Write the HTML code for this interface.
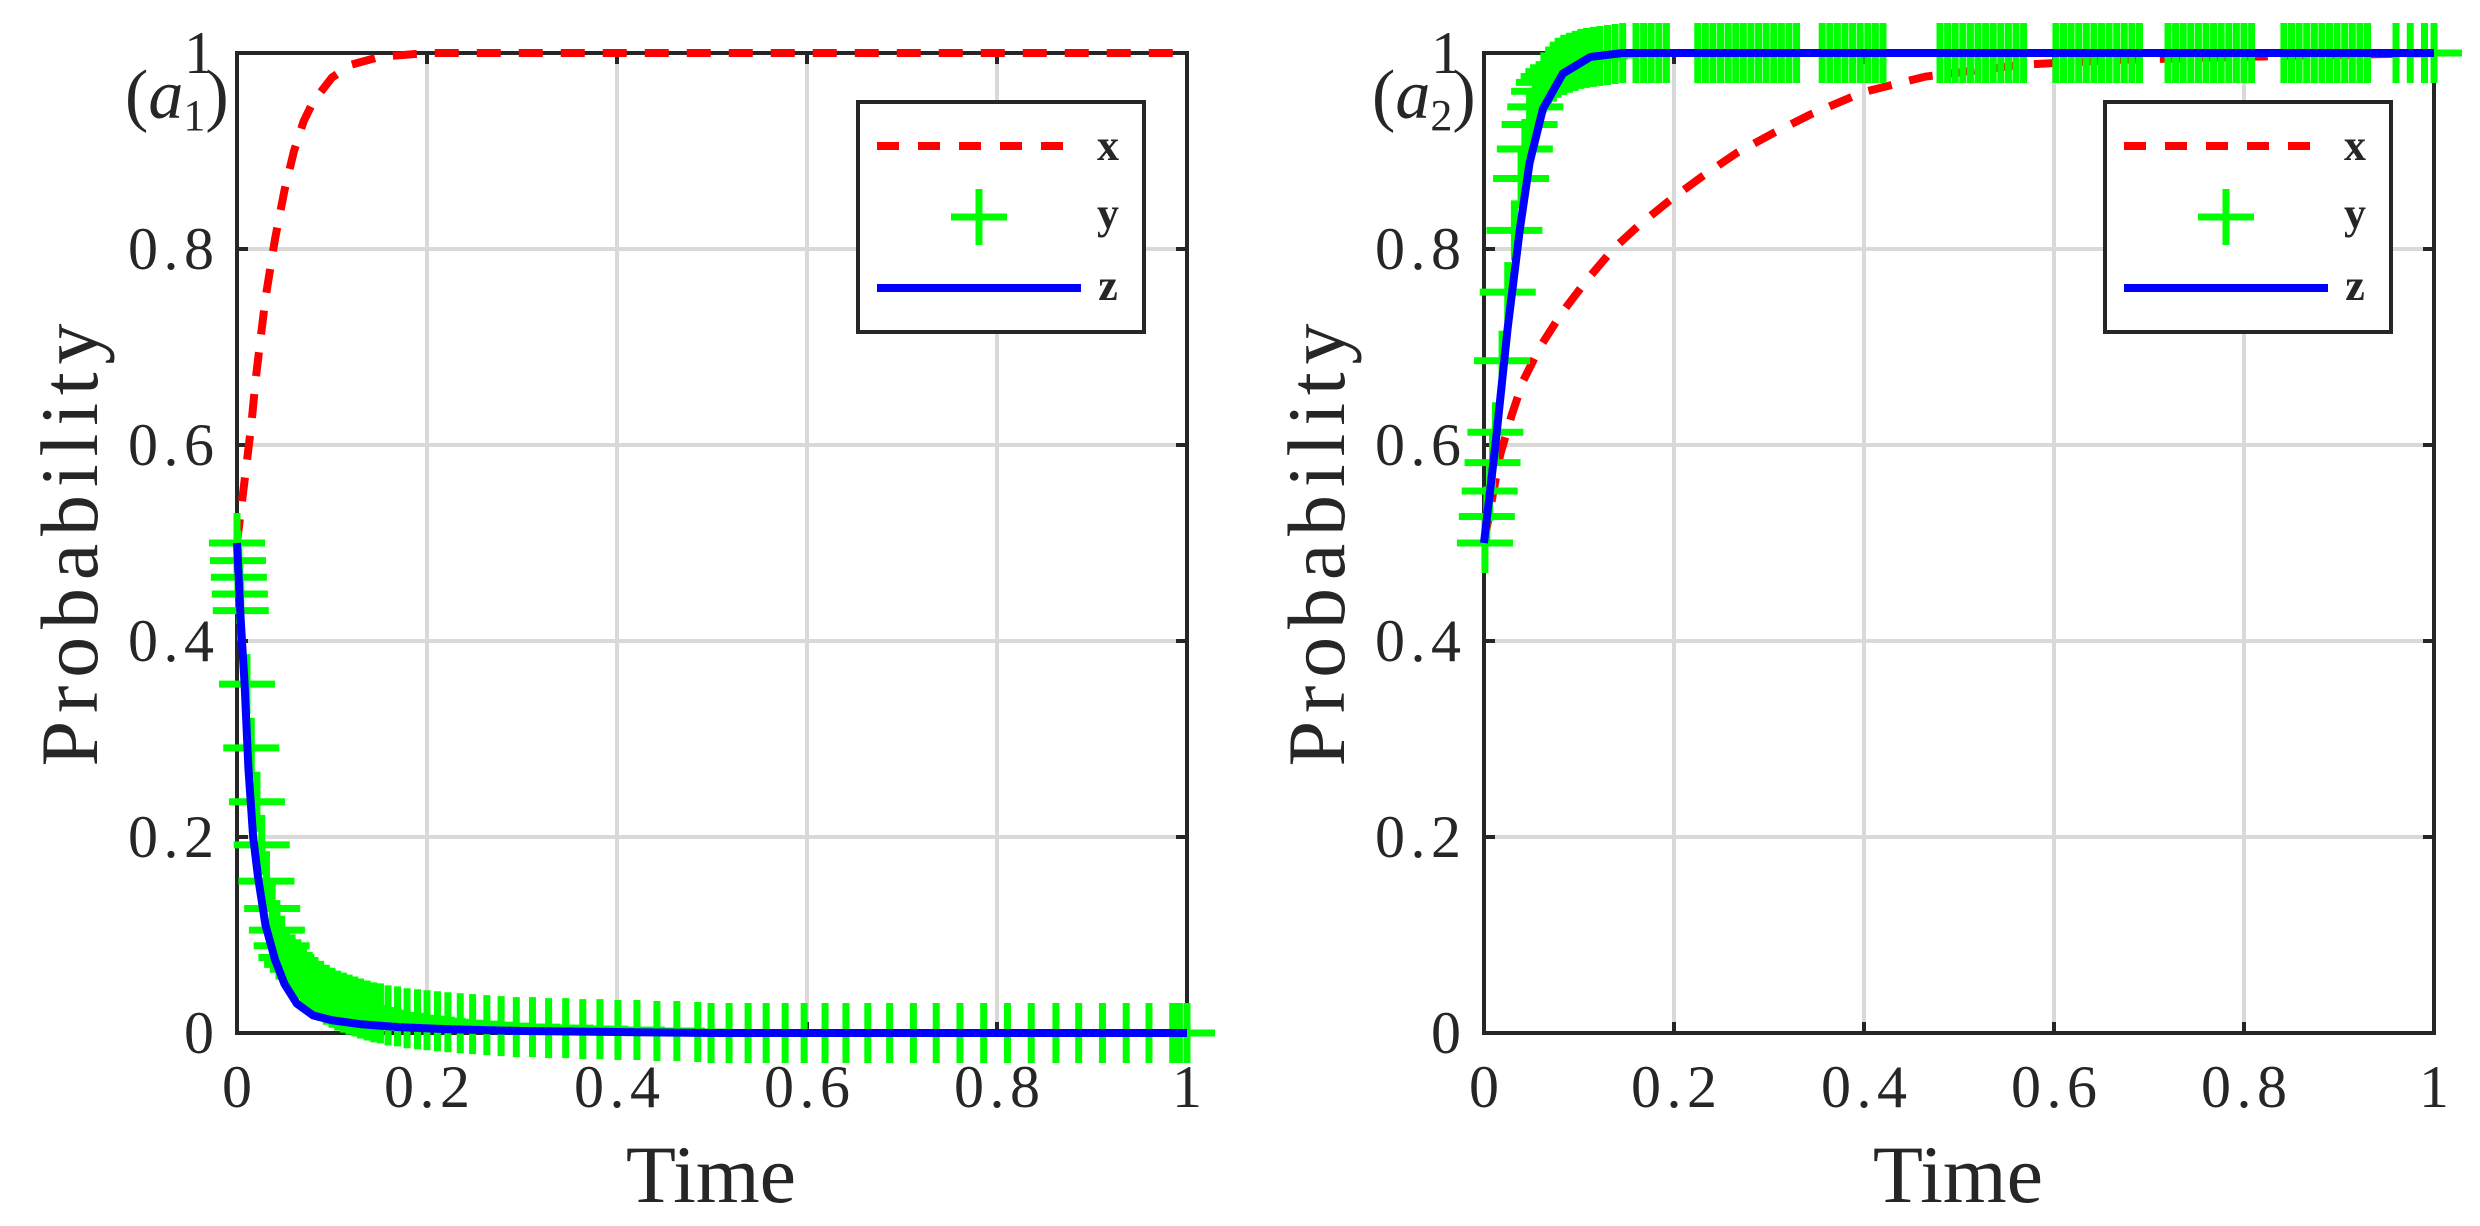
<!DOCTYPE html>
<html><head><meta charset="utf-8"><style>
html,body{margin:0;padding:0;background:#fff;}
svg{display:block;}
text{font-family:"Liberation Serif","Noto Serif CJK SC",serif;fill:#262626;}
</style></head><body>
<svg id="fig" width="2480" height="1226" viewBox="0 0 2480 1226" xmlns="http://www.w3.org/2000/svg"></svg>
<script>
const xTicks=[0,0.2,0.4,0.6,0.8,1];
const xTickLabels=["0","0.2","0.4","0.6","0.8","1"];
const yTicks=[0,0.2,0.4,0.6,0.8,1];
const yTickLabels=["0","0.2","0.4","0.6","0.8","1"];
// panel a1
const a1xT=[0,.005,.01,.015,.02,.025,.03,.04,.05,.06,.07,.08,.1,.12,.15,.2,1];
const a1xV=[.5,.54,.58,.62,.67,.71,.75,.81,.86,.9,.93,.95,.975,.988,.996,1,1];
const a1zT=[0,.004,.008,.012,.017,.022,.03,.04,.05,.063,.08,.1,.13,.17,.22,.3,.4,.5,1];
const a1zV=[.5,.42,.356,.27,.2,.16,.11,.075,.05,.03,.018,.013,.009,.006,.004,.002,.001,0,0];
const a1yT=[0,.001,.002,.003,.004,.0105,.015,.021,.026,.031,.037,.042,.047,.052,.058,.064,.07,.076,.082,.088,.094,.1,.106,.112,.118,.124,.13,.137,.144,.151,.159,.169,.179,.19,.2,.211,.222,.235,.248,.263,.278,.294,.311,.328,.346,.364,.382,.401,.421,.442,.463,.485,.499,.518,.538,.557,.577,.597,.619,.641,.664,.687,.712,.736,.761,.786,.811,.836,.862,.886,.911,.936,.96,.985,.992,1];
const a1yV=[.5,.482,.465,.448,.431,.356,.291,.236,.192,.155,.127,.105,.089,.077,.07,.065,.058,.052,.047,.043,.039,.036,.033,.031,.029,.027,.025,.023,.021,.02,.018,.017,.015,.014,.013,.012,.011,.01,.009,.008,.007,.006,.006,.005,.005,.004,.004,.003,.003,.002,.002,.001,0,0,0,0,0,0,0,0,0,0,0,0,0,0,0,0,0,0,0,0,0,0,0,0];
// panel a2
const a2xT=[0,.017,.029,.041,.059,.082,.108,.136,.164,.196,.231,.266,.304,.343,.399,.465,.566,.667,.8,1];
const a2xV=[.5,.59,.63,.665,.7,.735,.768,.8,.825,.85,.875,.898,.918,.937,.96,.976,.988,.993,.996,1];
const a2zT=[0,.012,.025,.038,.048,.062,.083,.112,.146,1];
const a2zV=[.5,.6,.72,.822,.888,.943,.979,.996,1,1];
const a2yT=[.001,.003,.006,.009,.012,.019,.025,.032,.039,.043,.048,.054,.058,.063,.068,.073,.078,.084,.09,.096,.102,.108,.115,.122,.13,.138,.146,.16,.168,.176,.184,.192,.225,.233,.241,.249,.257,.265,.273,.281,.289,.297,.305,.313,.321,.329,.356,.364,.372,.38,.388,.396,.404,.412,.42,.48,.488,.496,.504,.512,.52,.528,.536,.544,.552,.56,.568,.602,.61,.618,.626,.634,.642,.65,.658,.666,.674,.682,.69,.72,.728,.736,.744,.752,.76,.768,.776,.784,.792,.8,.808,.842,.85,.858,.866,.874,.882,.89,.898,.906,.914,.922,.93,.96,.975,.99,1];
const a2yV=[.5,.527,.553,.582,.613,.686,.756,.819,.872,.902,.927,.945,.961,.97,.976,.981,.985,.988,.99,.992,.994,.995,.996,.997,.998,.999,1,1,1,1,1,1,1,1,1,1,1,1,1,1,1,1,1,1,1,1,1,1,1,1,1,1,1,1,1,1,1,1,1,1,1,1,1,1,1,1,1,1,1,1,1,1,1,1,1,1,1,1,1,1,1,1,1,1,1,1,1,1,1,1,1,1,1,1,1,1,1,1,1,1,1,1,1,1,1,1,1,1];

const NS="http://www.w3.org/2000/svg";
const svg=document.getElementById('fig');
function mk(tag,attrs,parent){const e=document.createElementNS(NS,tag);for(const k in attrs)e.setAttribute(k,attrs[k]);(parent||svg).appendChild(e);return e;}
const Y0=1033,Y1=53,W=950;
function drawPanel(px0,key,xT,xV,yT,yV,zT,zV){
  const sx=t=>px0+t*W, sy=v=>Y0-(Y0-Y1)*v;
  const g=mk('g',{});
  
  
  xTicks.forEach((t,i)=>{
    const l=mk('line',{x1:sx(t),x2:sx(t),y1:Y1,y2:Y0,stroke:'#d9d9d9','stroke-width':4},g);
    
    
  });
  yTicks.forEach((v,i)=>{
    const l=mk('line',{x1:px0,x2:px0+W,y1:sy(v),y2:sy(v),stroke:'#d9d9d9','stroke-width':4},g);
    
    
  });
  const box=mk('rect',{x:px0,y:Y1,width:W,height:Y0-Y1,fill:'none',stroke:'#262626','stroke-width':4},g);
  
  
  xTicks.forEach((t,i)=>{
    mk('line',{x1:sx(t),x2:sx(t),y1:Y0,y2:Y0-11,stroke:'#262626','stroke-width':4},g);
    mk('line',{x1:sx(t),x2:sx(t),y1:Y1,y2:Y1+11,stroke:'#262626','stroke-width':4},g);
    const a={x:sx(t),y:1107,'text-anchor':'middle','font-size':60};
    if(xTickLabels[i].length>1){a.textLength=86;a.lengthAdjust='spacing';}
    const tx=mk('text',a,g);
    tx.textContent=xTickLabels[i];
    
    
  });
  yTicks.forEach((v,i)=>{
    mk('line',{x1:px0,x2:px0+11,y1:sy(v),y2:sy(v),stroke:'#262626','stroke-width':4},g);
    mk('line',{x1:px0+W,x2:px0+W-11,y1:sy(v),y2:sy(v),stroke:'#262626','stroke-width':4},g);
    const a={x:px0-23,y:sy(v)+20,'text-anchor':'end','font-size':60};
    if(yTickLabels[i].length>1){a.textLength=86;a.lengthAdjust='spacing';}
    const tx=mk('text',a,g);
    tx.textContent=yTickLabels[i];
    
    
  });
  const xp=mk('polyline',{points:xT.map((t,i)=>sx(t)+','+sy(xV[i])).join(' '),fill:'none',stroke:'#ff0000','stroke-width':8,'stroke-dasharray':'24 18'},g);
  
  
  const mg=mk('g',{},g);
  
  
  yT.forEach((t,i)=>{
    const cx=sx(t),cy=sy(yV[i]);
    const p=mk('path',{d:`M${cx-28},${cy}H${cx+28}M${cx},${cy-30}V${cy+30}`,stroke:'#00ff00','stroke-width':7,fill:'none'},mg);
    
    
  });
  const zp=mk('polyline',{points:zT.map((t,i)=>sx(t)+','+sy(zV[i])).join(' '),fill:'none',stroke:'#0000ff','stroke-width':8,'stroke-linejoin':'round'},g);
  
  
  const lx=px0+621, lg=mk('g',{},g);
  
  
  mk('rect',{x:lx,y:102,width:286,height:230,fill:'#fff',stroke:'#262626','stroke-width':4},lg);
  mk('line',{x1:lx+19,x2:lx+206,y1:146,y2:146,stroke:'#ff0000','stroke-width':8,'stroke-dasharray':'22 19'},lg);
  mk('path',{d:`M${lx+93},217H${lx+149}M${lx+121},189V245`,stroke:'#00ff00','stroke-width':7,fill:'none'},lg);
  mk('line',{x1:lx+19,x2:lx+223,y1:288,y2:288,stroke:'#0000ff','stroke-width':8},lg);
  [['x',160],['y',228],['z',300]].forEach(([s,y])=>{
    const t=mk('text',{x:lx+250,y:y,'text-anchor':'middle','font-size':44,'font-weight':'bold',fill:'#000'},lg);
    t.textContent=s;
    
    
  });
  const xt=mk('text',{x:px0+474,y:1202,'text-anchor':'middle','font-size':82},g);
  xt.textContent='Time';
  
  
  const yt=mk('text',{x:0,y:0,'text-anchor':'middle','font-size':82,textLength:443,lengthAdjust:'spacing',transform:`translate(${px0-140},545) rotate(-90)`},g);
  yt.textContent='Probability';
  
  
  const pl=mk('text',{x:px0-112,y:118,'font-size':70,fill:'#000'},g);
  pl.innerHTML='(<tspan font-style="italic">a</tspan><tspan font-size="44" dy="12">'+key.slice(1)+'</tspan><tspan dy="-12">)</tspan>';
  
  
}
drawPanel(237,'a1',a1xT,a1xV,a1yT,a1yV,a1zT,a1zV);
drawPanel(1484,'a2',a2xT,a2xV,a2yT,a2yV,a2zT,a2zV);
</script>
</body></html>
